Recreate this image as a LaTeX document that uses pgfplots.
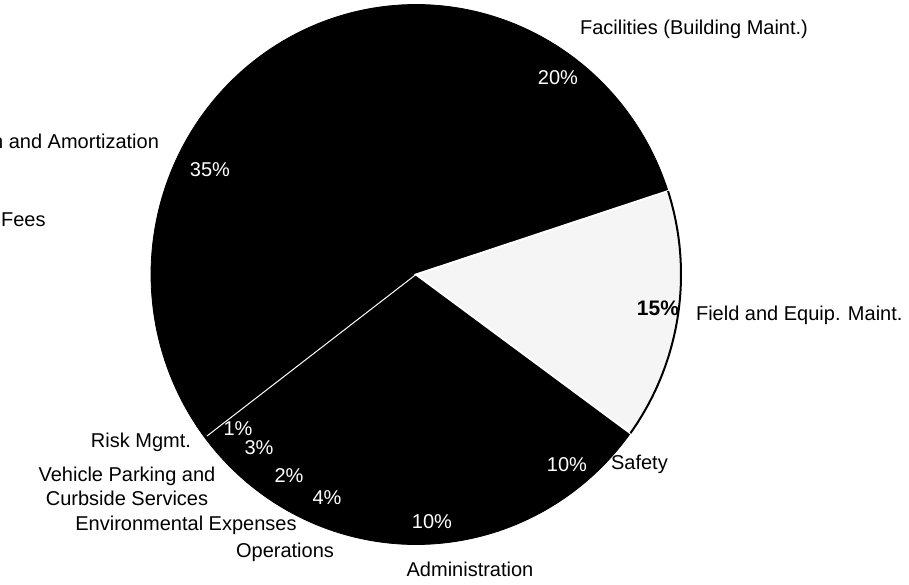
\documentclass[border=0pt]{standalone}
\usepackage{pgfplots}
\pgfplotsset{compat=1.18}
\usepackage{fontspec}
\setmainfont{Liberation Sans}
% slice: #1 = cumulative percent before, #2 = percent, #3 = style
\newcommand{\pieslice}[3]{%
  \addplot[#3, domain={90-3.6*(#1+#2)}:{90-3.6*(#1)}, samples=80]
    ({416+265*cos(x)},{309.5+270*sin(x)}) -- (axis cs:416,309.5) -- cycle;
}
\begin{document}
\begin{tikzpicture}
\begin{axis}[
  hide axis, scale only axis, clip=false,
  width=454.5pt, height=292pt,
  xmin=0, xmax=909, ymin=0, ymax=584,
  at={(0,0)}, anchor=south west,
  every node/.style={font=\fontsize{10.5}{13.5}\selectfont},
]
% percentages clockwise from 12 o'clock:
% Facilities 20, Field 15, Safety 10, Administration 10, Operations 4,
% Environmental 2, Vehicle 3, Risk 1, Fees 0.5, Depreciation 34.5
\pieslice{0}{20}{fill=black, draw=black}
\pieslice{35}{10}{fill=black, draw=black}
\pieslice{45}{10}{fill=black, draw=black}
\pieslice{55}{4}{fill=black, draw=black}
\pieslice{59}{2}{fill=black, draw=black}
\pieslice{61}{3}{fill=black, draw=black}
\pieslice{64}{1}{fill=black, draw=black}
\pieslice{65}{0.5}{fill=black, draw=black}
\pieslice{65.5}{34.5}{fill=black, draw=black}
\pieslice{20}{15}{fill=gray!8, draw=white, line width=1pt}
\addplot[black, line width=1pt, domain={90-3.6*35}:{90-3.6*20}, samples=60]
  ({416+265*cos(x)},{309.5+270*sin(x)});
\addplot[white, line width=0.5pt] coordinates {(416,309.5) (207,148)};

\node[white] at (axis cs:210,414) {35\%};
\node[white] at (axis cs:558,506) {20\%};
\node[black, font=\fontsize{10.5}{13.5}\selectfont\bfseries] at (axis cs:658,276) {15\%};
\node[white] at (axis cs:567,119) {10\%};
\node[white] at (axis cs:432,62) {10\%};
\node[white] at (axis cs:327,86) {4\%};
\node[white] at (axis cs:289,108) {2\%};
\node[white] at (axis cs:259,136) {3\%};
\node[white] at (axis cs:238,155) {1\%};

\node[anchor=east] at (axis cs:166,441) {Depreciation and Amortization};
\node[anchor=west] at (axis cs:-6,364) {Fees};
\node at (axis cs:694,555) {Facilities (Building Maint.)};
\node[anchor=west] at (axis cs:689,269) {Field and Equip. Maint.};
\node[anchor=west] at (axis cs:604,120) {Safety};
\node at (axis cs:470,15) {Administration};
\node at (axis cs:285,32) {Operations};
\node at (axis cs:186,59) {Environmental Expenses};
\node[align=center] at (axis cs:127,98) {Vehicle Parking and\\Curbside Services};
\node[anchor=east] at (axis cs:198,142) {Risk Mgmt.};
\end{axis}
\pgfresetboundingbox
\path[use as bounding box] (0,0) rectangle (454.5pt,292pt);
\end{tikzpicture}
\end{document}
